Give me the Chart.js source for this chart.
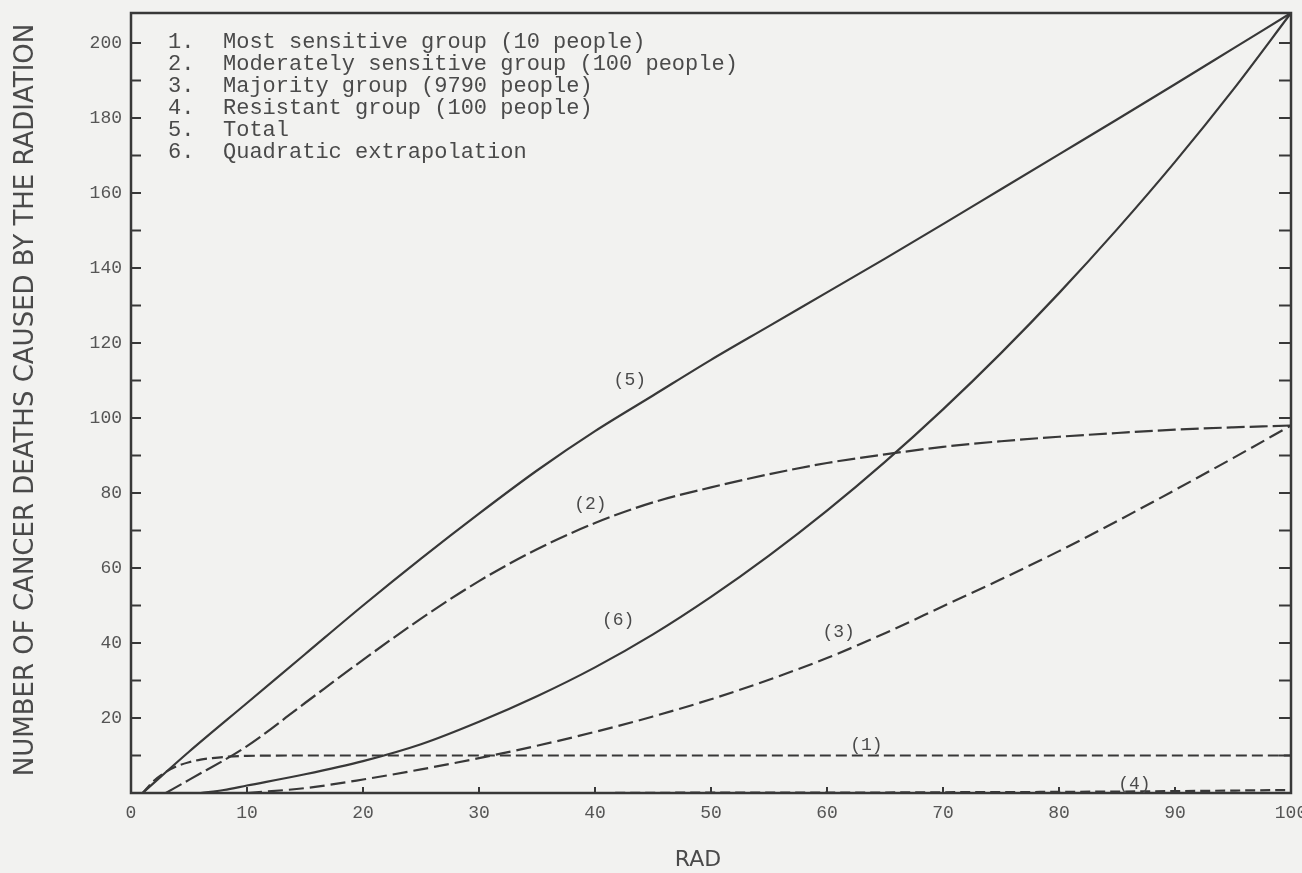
<!DOCTYPE html>
<html>
<head>
<meta charset="utf-8">
<script src="https://cdn.jsdelivr.net/npm/chart.js@4.4.1/dist/chart.umd.min.js"></script>
<style>
  html, body { margin: 0; padding: 0; background: #f2f2f0; }
  #wrap { width: 1302px; height: 873px; }
</style>
</head>
<body>
<div id="wrap"><canvas id="c" width="1302" height="873"></canvas></div>
<script>
// ---- data ----
const seriesNames = [
  'Most sensitive group (10 people)',
  'Moderately sensitive group (100 people)',
  'Majority group (9790 people)',
  'Resistant group (100 people)',
  'Total',
  'Quadratic extrapolation'
];
const curveTags = ['(1)', '(2)', '(3)', '(4)', '(5)', '(6)'];
const yTitle = 'NUMBER OF CANCER DEATHS CAUSED BY THE RADIATION';
const xTitle = 'RAD';

const radSensitive    = [1, 2, 3, 4, 5, 6, 7, 8, 10, 15, 20, 30, 40, 50, 60, 70, 80, 90, 100];
const deathsSensitive = [0, 3.3, 5.6, 7.2, 8.2, 8.9, 9.3, 9.6, 9.9, 10, 10, 10, 10, 10, 10, 10, 10, 10, 10];

const radModerate    = [3, 5, 10, 15, 20, 25, 30, 35, 40, 45, 50, 55, 60, 65, 70, 75, 80, 85, 90, 95, 100];
const deathsModerate = [0, 3.5, 12.5, 24, 35.5, 46.5, 56.5, 65, 72, 77.5, 81.5, 85, 88, 90.3, 92.3, 93.8, 95, 96, 96.9, 97.5, 98];

const radMajority    = [10, 15, 20, 25, 30, 35, 40, 45, 50, 55, 60, 65, 70, 75, 80, 85, 90, 95, 100];
const deathsMajority = [0, 1.3, 3.6, 6.3, 9.3, 12.6, 16.3, 20.4, 25, 30.2, 36, 42.6, 49.8, 57, 64.5, 72.5, 80.8, 89.3, 98];

const radResistant    = [12, 20, 30, 40, 50, 60, 70, 80, 90, 100];
const deathsResistant = [0, 0, 0, 0, 0.1, 0.1, 0.2, 0.3, 0.5, 0.8];

const radTotal    = [1, 5, 10, 15, 20, 25, 30, 35, 40, 45, 50, 55, 60, 65, 70, 75, 80, 85, 90, 95, 100];
const deathsTotal = [0, 11, 24, 37, 50, 62.5, 74.5, 86, 96.5, 106, 115.5, 124.5, 133.5, 142.5, 151.7, 161, 170.3, 179.6, 189, 198.5, 208];

const radQuadratic    = [6, 8, 10, 15, 20, 25, 30, 35, 40, 45, 50, 55, 60, 65, 70, 75, 80, 85, 90, 95, 100];
const deathsQuadratic = [0, 0.8, 2, 5, 8.5, 13, 19, 25.8, 33.5, 42.3, 52.3, 63.3, 75.3, 88.3, 102.3, 117.3, 133.3, 150.3, 168.3, 187.5, 208];

const xTickValues = [0, 10, 20, 30, 40, 50, 60, 70, 80, 90, 100];
const yTickValues = [20, 40, 60, 80, 100, 120, 140, 160, 180, 200];
const yMinorValues = [10, 30, 50, 70, 90, 110, 130, 150, 170, 190];

// label anchor points (data space) for the curve tags
const tagRad    = [63.4, 39.6, 61, 86.5, 43, 42];
const tagDeaths = [12.8, 77, 43, 2.4, 110, 46];

// ---- styling ----
const INK = '#383838';
const TXT = '#4a4a4a';
const MONO = "'Liberation Mono', 'DejaVu Sans Mono', monospace";
const SANS = "'DejaVu Sans', sans-serif";

function pts(xs, ys) { return xs.map((x, i) => ({ x: x, y: ys[i] })); }

const dashes = [[11, 5], [18, 5], [15, 6], [10, 5], [], []];
const radSets = [radSensitive, radModerate, radMajority, radResistant, radTotal, radQuadratic];
const deathSets = [deathsSensitive, deathsModerate, deathsMajority, deathsResistant, deathsTotal, deathsQuadratic];

const datasets = seriesNames.map((name, i) => ({
  label: name,
  data: pts(radSets[i], deathSets[i]),
  borderColor: INK,
  borderWidth: 2.2,
  borderDash: dashes[i],
  pointRadius: 0,
  fill: false,
  cubicInterpolationMode: 'monotone',
  clip: false
}));

const paperPlugin = {
  id: 'paper',
  beforeDraw(chart) {
    const ctx = chart.ctx;
    ctx.save();
    ctx.fillStyle = '#f2f2f0';
    ctx.fillRect(0, 0, chart.width, chart.height);
    ctx.restore();
  },
  afterDraw(chart) {
    const { ctx, chartArea: a, scales } = chart;
    const x = scales.x, y = scales.y;
    ctx.save();
    ctx.strokeStyle = INK;
    ctx.lineWidth = 2.5;
    ctx.strokeRect(a.left, a.top, a.right - a.left, a.bottom - a.top);
    ctx.lineWidth = 2;
    ctx.beginPath();
    yTickValues.concat(yMinorValues).forEach(v => {
      const py = y.getPixelForValue(v);
      ctx.moveTo(a.left, py); ctx.lineTo(a.left + 10, py);
      ctx.moveTo(a.right, py); ctx.lineTo(a.right - 12, py);
    });
    xTickValues.slice(1, -1).forEach(v => {
      const px = x.getPixelForValue(v);
      ctx.moveTo(px, a.bottom); ctx.lineTo(px, a.bottom - 6);
    });
    ctx.stroke();

    // legend block
    ctx.fillStyle = TXT;
    ctx.font = '22px ' + MONO;
    ctx.textBaseline = 'middle';
    ctx.textAlign = 'left';
    const lx0 = a.left + 37, lx1 = a.left + 92, ly0 = a.top + 29, step = 22;
    seriesNames.forEach((name, i) => {
      ctx.fillText((i + 1) + '.', lx0, ly0 + i * step);
      ctx.fillText(name, lx1, ly0 + i * step);
    });

    // curve tags
    ctx.font = '18px ' + MONO;
    ctx.textAlign = 'center';
    curveTags.forEach((t, i) => {
      ctx.fillText(t, x.getPixelForValue(tagRad[i]), y.getPixelForValue(tagDeaths[i]));
    });

    // axis titles
    ctx.fillStyle = TXT;
    ctx.textBaseline = 'alphabetic';
    ctx.font = '26px ' + SANS;
    ctx.save();
    ctx.translate(33, 400);
    ctx.rotate(-Math.PI / 2);
    ctx.fillText(yTitle, 0, 0);
    ctx.restore();
    ctx.font = '22px ' + SANS;
    ctx.fillText(xTitle, 698, 866);
    ctx.restore();
  }
};

new Chart(document.getElementById('c'), {
  type: 'line',
  data: { datasets: datasets },
  options: {
    responsive: false,
    animation: false,
    layout: { padding: { top: 13, right: 11, left: 0, bottom: 0 } },
    plugins: { legend: { display: false }, tooltip: { enabled: false } },
    scales: {
      x: {
        type: 'linear',
        min: 0, max: 100,
        grid: { display: false, drawTicks: false },
        border: { display: false },
        afterBuildTicks(s) { s.ticks = xTickValues.map(v => ({ value: v })); },
        afterFit(s) { s.height = 80; s.paddingLeft = 0; s.paddingRight = 0; },
        ticks: { color: '#555', font: { family: MONO, size: 18 }, padding: 9, maxRotation: 0,
                 callback: v => String(v) }
      },
      y: {
        type: 'linear',
        min: 0, max: 208,
        grid: { display: false, drawTicks: false },
        border: { display: false },
        afterBuildTicks(s) { s.ticks = yTickValues.map(v => ({ value: v })); },
        afterFit(s) { s.width = 131; s.paddingTop = 0; s.paddingBottom = 0; },
        ticks: { color: '#555', font: { family: MONO, size: 18 }, padding: 9,
                 callback: v => String(v) }
      }
    }
  },
  plugins: [paperPlugin]
});
</script>
</body>
</html>
